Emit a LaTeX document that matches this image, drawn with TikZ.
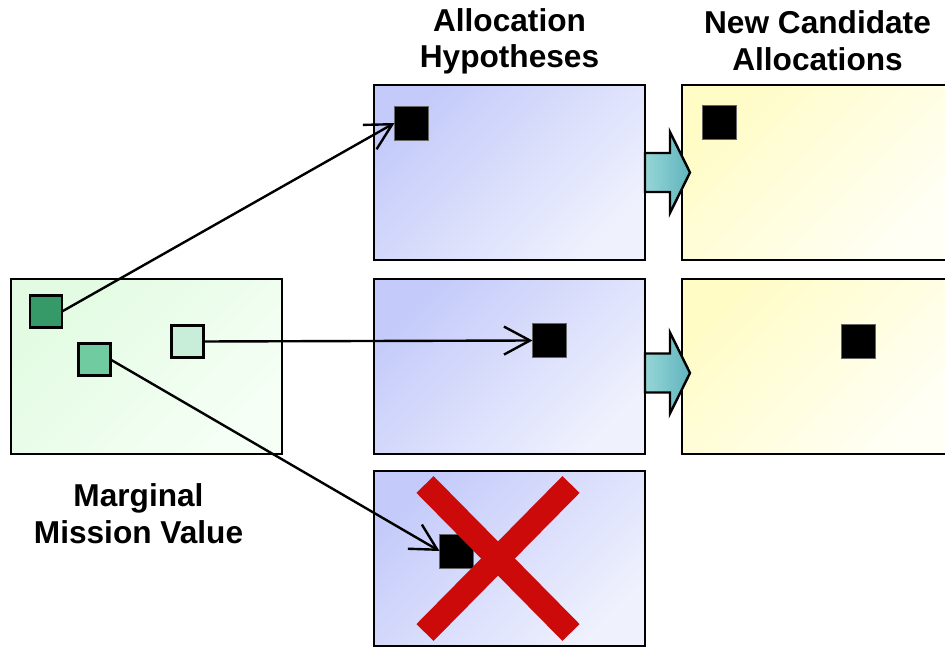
\documentclass[tikz,border=0pt]{standalone}
\usepackage{fontspec}
\setmainfont{Liberation Sans}
\usepackage{xcolor}
\usepackage{tikz}
\usetikzlibrary{arrows.meta,positioning}

\definecolor{hypTop}{RGB}{196,203,250}
\definecolor{hypBot}{RGB}{239,241,253}
\definecolor{mvTop}{RGB}{226,251,226}
\definecolor{mvBot}{RGB}{246,255,246}
\definecolor{candTop}{RGB}{255,252,198}
\definecolor{candBot}{RGB}{255,255,246}
\definecolor{mvDark}{RGB}{53,153,104}
\definecolor{mvMid}{RGB}{112,204,160}
\definecolor{mvLight}{RGB}{200,238,218}
\definecolor{tealL}{RGB}{150,214,214}
\definecolor{tealR}{RGB}{96,180,190}
\definecolor{crossRed}{RGB}{204,10,10}

\begin{document}
\begin{tikzpicture}[
    panel/.style={
        rectangle,
        draw=black,
        line width=0.05cm,
        minimum width=5.42cm,
        minimum height=3.5cm,
        inner sep=0pt,
        outer sep=0pt
    },
    hyp/.style={
        panel,
        top color=hypTop,
        bottom color=hypBot,
        shading angle=45
    },
    mv/.style={
        panel,
        top color=mvTop,
        bottom color=mvBot,
        shading angle=45
    },
    cand/.style={
        panel,
        top color=candTop,
        bottom color=candBot,
        shading angle=45
    },
    item/.style={
        rectangle,
        draw=black,
        line width=0.045cm,
        minimum size=0.64cm,
        inner sep=0pt,
        outer sep=0pt
    },
    task/.style={
        rectangle,
        fill=black,
        draw=black!60,
        line width=0.3pt,
        minimum size=0.68cm,
        inner sep=0pt,
        outer sep=0pt
    },
    title/.style={
        align=center,
        inner sep=0pt,
        outer sep=0pt,
        font=\fontsize{18}{21}\selectfont\bfseries
    },
    link/.style={
        -{Straight Barb[length=5.2mm,width=5.6mm]},
        line width=0.048cm
    },
    blockarrow/.style={
        draw=black,
        line width=0.048cm,
        left color=tealL,
        right color=tealR
    },
    cross/.style={
        draw=crossRed,
        line width=0.48cm,
        line cap=butt
    }
]

\useasboundingbox (0,0) rectangle (18.9,-12.94);

% ---------------- PANELS ----------------

\node[hyp, anchor=north west] (hyp1) at (7.48,-1.70) {};

\node[hyp, below=0.38cm of hyp1] (hyp2) {};

\node[hyp, below=0.34cm of hyp2] (hyp3) {};

\node[mv, left=1.84cm of hyp2] (mv) {};

\node[cand, right=0.74cm of hyp1] (cand1) {};

\node[cand, right=0.74cm of hyp2] (cand2) {};


% ---------------- TITLES ----------------

\node[title, above=0.21cm of hyp1] (hyptitle)
    {Allocation\\Hypotheses};

\node[title, above=0.28cm of cand1] (candtitle)
    {New Candidate\\Allocations};

\node[title, below=0.60cm of mv, xshift=-0.16cm] (mvtitle)
    {Marginal\\Mission Value};


% ---------------- ITEMS ----------------

\node[item, fill=mvDark, below right=0.33cm and 0.38cm of mv.north west] (mv1) {};

\node[item, fill=mvMid, below right=1.29cm and 1.35cm of mv.north west] (mv2) {};

\node[item, fill=mvLight, below right=0.93cm and 3.21cm of mv.north west] (mv3) {};

\node[task, below right=0.42cm and 0.41cm of hyp1.north west] (task1) {};

\node[task, below right=0.89cm and 3.17cm of hyp2.north west] (task2) {};

\node[task, below right=1.26cm and 1.31cm of hyp3.north west] (task3) {};

\node[task, below right=0.41cm and 0.41cm of cand1.north west] (new1) {};

\node[task, below right=0.90cm and 3.18cm of cand2.north west] (new2) {};


% ---------------- CONNECTORS ----------------

\draw[link] (mv1.east) -- (task1.west);
\draw[link] (mv3.east) -- (task2.west);
\draw[link] (mv2.east) -- (task3.west);

\draw[blockarrow] ([yshift=0.39cm]hyp1.east)
    -- ++(0.5,0) -- ++(0,0.42) -- ++(0.4,-0.81)
    -- ++(-0.4,-0.81) -- ++(0,0.42) -- ++(-0.5,0) -- cycle;

\draw[blockarrow] ([yshift=0.26cm]hyp2.east)
    -- ++(0.5,0) -- ++(0,0.42) -- ++(0.4,-0.81)
    -- ++(-0.4,-0.81) -- ++(0,0.42) -- ++(-0.5,0) -- cycle;

% rejected hypothesis
\draw[cross] ([shift={(-1.69,1.48)}]hyp3.center)
    -- ([shift={(1.23,-1.48)}]hyp3.center);
\draw[cross] ([shift={(1.23,1.48)}]hyp3.center)
    -- ([shift={(-1.69,-1.48)}]hyp3.center);

\end{tikzpicture}
\end{document}
